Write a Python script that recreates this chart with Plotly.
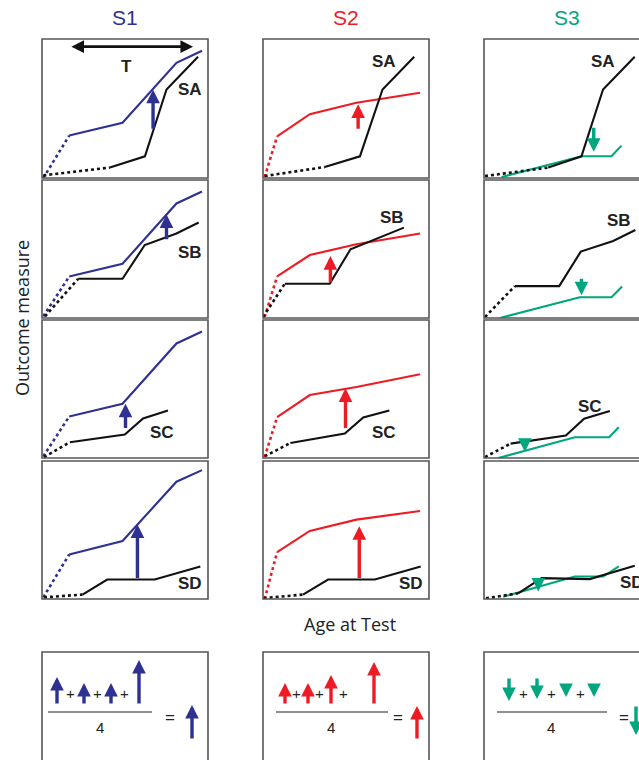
import plotly.graph_objects as go

W, H = 639, 760

BLUE = "#2E3192"
RED = "#ED1C24"
GREEN = "#00A67E"
BLACK = "#111111"

COLS = ["S1", "S2", "S3"]
COL_COLORS = [BLUE, RED, GREEN]
ROWS = ["SA", "SB", "SC", "SD"]

# ---- group trajectories (first segment dotted) ----
BLUE_X = [0.8, 16.4, 48.5, 81.0, 96.4]
BLUE_Y_SA = [0.0, 30.5, 39.7, 82.9, 91.6]
BLUE_Y_SB = [1.2, 30.1, 39.3, 83.0, 91.7]
BLUE_Y_SC = [1.2, 30.1, 39.3, 83.0, 91.7]
BLUE_Y_SD = [1.2, 32.3, 42.0, 85.0, 93.4]

RED_X = [1.0, 8.5, 28.2, 56.3, 94.6]
RED_Y_SA = [0.7, 30.0, 45.9, 54.1, 61.3]
RED_Y_SB = [0.7, 30.1, 45.6, 53.5, 61.2]
RED_Y_SC = [0.7, 29.6, 45.6, 51.5, 60.7]
RED_Y_SD = [0.0, 34.0, 49.3, 57.5, 63.8]

# green (S3) trajectories, all solid
GREEN_X_SA = [10.6, 58.7, 76.8, 82.8]
GREEN_Y_SA = [0.7, 15.6, 15.6, 23.3]
GREEN_X_SB = [9.6, 57.7, 76.8, 83.2]
GREEN_Y_SB = [0.0, 15.0, 15.0, 22.8]
GREEN_X_SC = [8.6, 54.7, 75.4, 81.2]
GREEN_Y_SC = [0.0, 15.0, 15.0, 22.3]
GREEN_X_SD = [11.6, 54.7, 71.7, 81.2]
GREEN_Y_SD = [1.7, 16.3, 16.3, 23.7]

# ---- subgroup (black) trajectories, per column S1, S2, S3 ----
SA_X = [[0.8, 40.9, 62.0, 75.0, 94.0], [1.0, 37.2, 58.4, 72.0, 91.1], [0.6, 38.7, 58.7, 71.7, 90.8]]
SA_Y = [[1.9, 7.5, 15.6, 63.7, 87.3], [1.4, 7.9, 15.6, 63.7, 87.3], [1.4, 7.5, 15.6, 63.7, 87.3]]
SB_X = [[1.8, 21.8, 48.5, 61.9, 81.0, 94.4], [0.0, 13.1, 40.2, 52.7, 84.9], [0.6, 18.6, 45.3, 58.3, 77.8, 91.2]]
SB_Y = [[1.2, 28.4, 28.4, 52.9, 61.2, 69.2], [0.7, 24.8, 24.8, 49.8, 65.5], [0.7, 23.1, 23.1, 48.1, 55.8, 63.8]]
SC_X = [[1.2, 16.8, 49.9, 60.9, 75.9], [1.0, 16.5, 49.3, 60.4, 76.1], [0.6, 16.0, 49.3, 60.3, 75.8]]
SC_Y = [[0.7, 11.4, 17.0, 28.6, 34.5], [1.2, 10.9, 17.7, 29.4, 34.5], [0.7, 10.4, 16.3, 28.4, 34.0]]
SD_X = [[1.2, 24.4, 39.3, 67.9, 95.4], [0.4, 24.1, 39.2, 67.4, 95.0], [1.2, 20.6, 34.7, 63.7, 90.8]]
SD_Y = [[1.2, 3.2, 14.1, 14.1, 23.5], [0.7, 3.2, 14.1, 14.1, 23.5], [0.5, 4.1, 15.1, 14.4, 24.1]]

# ---- effect arrows: x, tail y, tip y (rows SA..SD) per column ----
ARROW_X = [[66.9, 75.0, 50.3, 57.5], [57.3, 40.6, 49.7, 58.0], [66.1, 58.7, 24.6, 32.7]]
ARROW_TAIL = [[34.4, 56.0, 20.6, 14.1], [34.4, 24.8, 20.6, 14.1], [37.3, 29.6, 10.5, 13.9]]
ARROW_TIP = [[63.5, 75.0, 39.3, 54.0], [53.0, 44.9, 50.5, 52.7], [18.8, 16.5, 4.5, 5.4]]

# ---- subgroup labels positions ----
LABEL_X = [[89.4, 89.4, 72.5, 89.4], [72.6, 77.9, 72.6, 89.1], [71.9, 81.2, 63.9, 89.0]]
LABEL_Y = [[63.7, 47.3, 18.2, 11.4], [83.7, 72.8, 18.2, 11.4], [83.7, 70.4, 37.6, 12.0]]

# ---- summary arrows (lengths as drawn, px; negative = downward) ----
SUM_S1 = [28, 22, 22, 45]
SUM_S2 = [22, 22, 30, 43]
SUM_S3 = [-24, -22, -12, -12]
SUM_RESULT = [35, 34, -30]

BLUE_Y = [BLUE_Y_SA, BLUE_Y_SB, BLUE_Y_SC, BLUE_Y_SD]
RED_Y = [RED_Y_SA, RED_Y_SB, RED_Y_SC, RED_Y_SD]
GREEN_X = [GREEN_X_SA, GREEN_X_SB, GREEN_X_SC, GREEN_X_SD]
GREEN_Y = [GREEN_Y_SA, GREEN_Y_SB, GREEN_Y_SC, GREEN_Y_SD]
BLACK_X = [SA_X, SB_X, SC_X, SD_X]
BLACK_Y = [SA_Y, SB_Y, SC_Y, SD_Y]
SUM_VALUES = [SUM_S1, SUM_S2, SUM_S3]

# layout (pixels)
COL_PX = [(42, 208), (263, 429), (484, 650)]
ROW_PX = [(39, 178), (180, 318), (320, 458), (461, 599)]
SUM_TOP = 652

# summary box layout (pixel units inside each box)
SUM_ARROW_X = [[15, 42, 69, 97], [22, 45, 68, 111], [25, 53, 82, 110]]
SUM_PLUS_X = [[28, 55, 82], [33.5, 56.5, 80], [39, 67, 96]]
SUM_DOWN_TAIL = [83, 83, 75, 75]
SUM_LINE_X = [[6, 110], [13, 125], [13, 123]]
SUM_FOUR_X = [58, 68, 67]
SUM_EQ_X = [128, 135, 140]
SUM_RES_X = [150, 154, 152]

fig = go.Figure()
layout = dict(width=W, height=H, margin=dict(l=0, r=0, t=0, b=0),
              paper_bgcolor="white", plot_bgcolor="white", showlegend=False)
annotations = []
shapes = []
LBL_FONT = "Liberation Sans, Arial"


def ax_names(k):
    return ("x" if k == 1 else f"x{k}"), ("y" if k == 1 else f"y{k}")


def add_axes(k, x0, x1, y0, y1, xr, yr):
    xvis = min(x1, W)
    layout["xaxis" if k == 1 else f"xaxis{k}"] = dict(
        domain=[x0 / W, xvis / W], range=xr, visible=False, fixedrange=True,
        anchor=ax_names(k)[1])
    layout["yaxis" if k == 1 else f"yaxis{k}"] = dict(
        domain=[max(0, 1 - y1 / H), 1 - y0 / H], range=yr, visible=False, fixedrange=True,
        anchor=ax_names(k)[0])


def seg_line(xs, ys, color, k, dotted_first=True, width=2.1):
    xa, ya = ax_names(k)
    if dotted_first:
        fig.add_trace(go.Scatter(x=xs[:2], y=ys[:2], mode="lines", xaxis=xa, yaxis=ya,
                                 line=dict(color=color, width=2.6, dash="dot"), hoverinfo="skip"))
        fig.add_trace(go.Scatter(x=xs[1:], y=ys[1:], mode="lines", xaxis=xa, yaxis=ya,
                                 line=dict(color=color, width=width), hoverinfo="skip"))
    else:
        fig.add_trace(go.Scatter(x=xs, y=ys, mode="lines", xaxis=xa, yaxis=ya,
                                 line=dict(color=color, width=width), hoverinfo="skip"))


def arrow(k, x, tail, tip, color, width=3.4, size=0.8):
    xa, ya = ax_names(k)
    annotations.append(dict(x=x, y=tip, ax=x, ay=tail, xref=xa, yref=ya, axref=xa, ayref=ya,
                            showarrow=True, arrowhead=2, arrowsize=size, arrowwidth=width,
                            arrowcolor=color, text="", standoff=0))


def text(x, y, s, xref, yref, size, color="#222222", family=LBL_FONT, angle=0):
    annotations.append(dict(x=x, y=y, xref=xref, yref=yref, text=s, showarrow=False,
                            xanchor="center", yanchor="middle", textangle=angle,
                            font=dict(family=family, size=size, color=color)))


for r in range(4):
    for c in range(3):
        k = r * 3 + c + 1
        x0, x1 = COL_PX[c]
        y0, y1 = ROW_PX[r]
        add_axes(k, x0, x1, y0, y1, [0, 100 * (min(x1, W) - x0) / (x1 - x0)], [0, 100])
        shapes.append(dict(type="rect", xref="paper", yref="paper",
                           x0=x0 / W, x1=x1 / W, y0=1 - y1 / H, y1=1 - y0 / H,
                           line=dict(color="#555555", width=1.6)))
        if c == 0:
            seg_line(BLUE_X, BLUE_Y[r], BLUE, k)
        elif c == 1:
            seg_line(RED_X, RED_Y[r], RED, k)
        else:
            seg_line(GREEN_X[r], GREEN_Y[r], GREEN, k, dotted_first=False)
        seg_line(BLACK_X[r][c], BLACK_Y[r][c], BLACK, k)
        arrow(k, ARROW_X[c][r], ARROW_TAIL[c][r], ARROW_TIP[c][r], COL_COLORS[c])
        xa, ya = ax_names(k)
        text(LABEL_X[c][r], LABEL_Y[c][r], f"<b>{ROWS[r]}</b>", xa, ya, 17)

# T arrow in first panel
annotations.append(dict(x=91.0, y=94.5, ax=16.8, ay=94.5, xref="x", yref="y", axref="x", ayref="y",
                        showarrow=True, arrowhead=2, arrowside="end+start", arrowsize=0.9,
                        arrowwidth=2.8, arrowcolor=BLACK, text="", standoff=0, startstandoff=0))
text(50.9, 80.0, "<b>T</b>", "x", "y", 17)

# column titles
for c in range(3):
    x0, x1 = COL_PX[c]
    text((x0 + 83) / W, 1 - 18 / H, COLS[c], "paper", "paper", 21, color=COL_COLORS[c])

# axis titles
text(22 / W, 1 - 318 / H, "Outcome measure", "paper", "paper", 18, family="Open Sans", angle=-90)
text(350 / W, 1 - 624 / H, "Age at Test", "paper", "paper", 18, family="Open Sans")

# summary boxes
for c in range(3):
    k = 13 + c
    x0, x1 = COL_PX[c]
    vis_w = min(x1, W) - x0
    add_axes(k, x0, x1, SUM_TOP, H, [0, vis_w], [0, H - SUM_TOP])
    shapes.append(dict(type="rect", xref="paper", yref="paper",
                       x0=x0 / W, x1=x1 / W, y0=-0.05, y1=1 - SUM_TOP / H,
                       line=dict(color="#555555", width=1.6)))
    xa, ya = ax_names(k)
    for i, e in enumerate(SUM_VALUES[c]):
        tail = 55 if e > 0 else SUM_DOWN_TAIL[i]
        arrow(k, SUM_ARROW_X[c][i], tail, tail + e, COL_COLORS[c])
    for px in SUM_PLUS_X[c]:
        text(px, 67, "+", xa, ya, 15)
    fig.add_trace(go.Scatter(x=SUM_LINE_X[c], y=[48, 48], mode="lines", xaxis=xa, yaxis=ya,
                             line=dict(color="#222222", width=1.2), hoverinfo="skip"))
    text(SUM_FOUR_X[c], 33, "4", xa, ya, 15)
    text(SUM_EQ_X[c], 43, "=", xa, ya, 17)
    res = SUM_RESULT[c]
    rtail = 20 if res > 0 else 55
    arrow(k, SUM_RES_X[c], rtail, rtail + res, COL_COLORS[c])

layout["annotations"] = annotations
layout["shapes"] = shapes
fig.update_layout(**layout)
fig.write_html("out.html", config={"displayModeBar": False},
               post_script="document.body.style.margin='0';document.body.style.overflow='hidden';")
